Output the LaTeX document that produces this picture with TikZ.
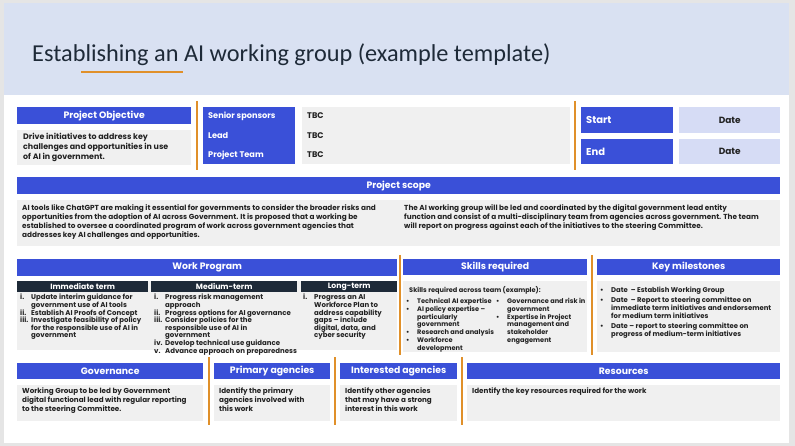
\documentclass[tikz,border=0pt]{standalone}
\usepackage{fontspec}
\setmainfont{Poppins}
\newfontfamily\titlefont{Carlito}
\definecolor{hb}{HTML}{D9E1F2}
\definecolor{bl}{HTML}{3A50D8}
\definecolor{gy}{HTML}{F0F0F0}
\definecolor{ld}{HTML}{D6DCF5}
\definecolor{dk}{HTML}{1E2A38}
\definecolor{og}{HTML}{E0902A}
\definecolor{tx}{HTML}{222222}
\tikzset{
 hdr/.style={fill=bl,text=white,font=\fontsize{9.3}{10}\selectfont\bfseries},
 sub/.style={fill=dk,text=white,font=\fontsize{7.7}{8}\selectfont\bfseries},
 body/.style={fill=gy},
 dat/.style={fill=ld,text=tx,font=\fontsize{9}{10}\selectfont\bfseries},
 txt/.style={anchor=north west,inner sep=0pt,align=left,text=tx,font=\fontsize{7.3}{9}\selectfont\bfseries},
 bar/.style={draw=og,line width=2.2pt},
}
\newcommand\bx[7]{\node[#6,anchor=north west,inner sep=0pt,minimum width={(#4-#2)*1pt},minimum height={(#5-#3)*1pt}] (#1) at (#2pt,-#3pt) {#7};}
\newcommand\li[2]{\makebox[11pt][l]{#1}#2}
\newcommand\cn{\\\hspace*{11pt}}
\begin{document}
\begin{tikzpicture}[x=1pt,y=1pt]
\useasboundingbox (0,0) rectangle (795,-446);
\fill[gray!20] (0,0) rectangle (795,-446);
\fill[white] (4,-3) rectangle (789,-443);
\fill[hb] (4,-3) rectangle (789,-95);
\node[anchor=base west,inner sep=0pt,text=dk,font=\titlefont\fontsize{24.3}{26}\selectfont] (title) at (32,-62) {Establishing an AI working group (example template)};
\coordinate (u1) at (81,-72); \coordinate (u2) at (183,-72);
\draw[og,line width=2pt] (u1) -- (u2);
% row 1
\bx{po}{17}{107}{191}{124}{hdr}{Project Objective}
\bx{pob}{17}{130}{191}{165}{body}{}
\node[txt,font=\fontsize{7.9}{9.8}\selectfont\bfseries] (pot) at (23,-133) {Drive initiatives to address key\\challenges and opportunities in use\\of AI in government.};
\coordinate (b1a) at (197,-101); \coordinate (b1b) at (197,-170); \draw[bar] (b1a)--(b1b);
\bx{sp}{203}{107}{295}{164}{hdr}{}
\node[txt,text=white,font=\fontsize{8.2}{9}\selectfont\bfseries,anchor=west] (spt) at (208,-116) {Senior sponsors};
\node[txt,text=white,font=\fontsize{8.2}{9}\selectfont\bfseries,anchor=west] (ldt) at (208,-136) {Lead};
\node[txt,text=white,font=\fontsize{8.2}{9}\selectfont\bfseries,anchor=west] (ptt) at (208,-155) {Project Team};
\bx{tb}{302}{107}{570}{164}{body}{}
\node[txt,font=\fontsize{8.2}{9}\selectfont\bfseries,anchor=west] (t1) at (307,-116) {TBC};
\node[txt,font=\fontsize{8.2}{9}\selectfont\bfseries,anchor=west] (t2) at (307,-136) {TBC};
\node[txt,font=\fontsize{8.2}{9}\selectfont\bfseries,anchor=west] (t3) at (307,-155) {TBC};
\coordinate (b2a) at (575,-101); \coordinate (b2b) at (575,-170); \draw[bar] (b2a)--(b2b);
\bx{st}{581}{107}{673}{133}{hdr}{}
\node[txt,text=white,font=\fontsize{10}{11}\selectfont\bfseries,anchor=west] (stt) at (586,-120) {Start};
\bx{sd}{679}{107}{780}{133}{dat}{Date}
\bx{en}{581}{139}{673}{164}{hdr}{}
\node[txt,text=white,font=\fontsize{10}{11}\selectfont\bfseries,anchor=west] (ent) at (586,-152) {End};
\bx{ed}{679}{139}{780}{164}{dat}{Date}
% scope
\bx{ps}{17}{177}{780}{194}{hdr}{Project scope}
\bx{psb}{17}{200}{780}{246}{body}{}
\node[txt] (ps1) at (22,-204) {AI tools like ChatGPT are making it essential for governments to consider the broader risks and\\opportunities from the adoption of AI across Government. It is proposed that a working be\\established to oversee a coordinated program of work across government agencies that\\addresses key AI challenges and opportunities.};
\node[txt] (ps2) at (404,-204) {The AI working group will be led and coordinated by the digital government lead entity\\function and consist of a multi-disciplinary team from agencies across government. The team\\will report on progress against each of the initiatives to the steering Committee.};
% row 3
\bx{wp}{17}{259}{397}{276}{hdr}{Work Program}
\bx{wpb}{17}{281}{397}{350}{body}{}
\bx{im}{17}{281}{148}{292}{sub}{Immediate term}
\bx{md}{151}{281}{297}{292}{sub}{Medium-term}
\bx{lt}{301}{281}{397}{292}{sub}{Long-term}
\node[txt,font=\fontsize{7}{7.6}\selectfont\bfseries] (imt) at (20,-294) {\li{i.}{Update interim guidance for}\cn government use of AI tools\\\li{ii.}{Establish AI Proofs of Concept}\\\li{iii.}{Investigate feasibility of policy}\cn for the responsible use of AI in\cn government};
\node[txt,font=\fontsize{7}{7.6}\selectfont\bfseries] (mdt) at (154,-294) {\li{i.}{Progress risk management}\cn approach\\\li{ii.}{Progress options for AI governance}\\\li{iii.}{Consider policies for the}\cn responsible use of AI in\cn government\\\li{iv.}{Develop technical use guidance}\\\li{v.}{Advance approach on preparedness}};
\node[txt,font=\fontsize{7}{7.6}\selectfont\bfseries] (ltt) at (303,-294) {\li{i.}{Progress an AI}\cn Workforce Plan to\cn address capability\cn gaps -- include\cn digital, data, and\cn cyber security};
\coordinate (b3a) at (400,-255); \coordinate (b3b) at (400,-355); \draw[bar] (b3a)--(b3b);
\bx{sk}{403}{259}{587}{275}{hdr}{Skills required}
\bx{skb}{403}{281}{587}{352}{body}{}
\node[txt,font=\fontsize{6.6}{8}\selectfont\bfseries] (skt) at (409,-286) {Skills required across team (example):};
\node[txt,font=\fontsize{6.6}{7.8}\selectfont\bfseries] (sk1) at (406,-298) {\li{•}{Technical AI expertise}\\\li{•}{AI policy expertise --}\cn particularly\cn government\\\li{•}{Research and analysis}\\\li{•}{Workforce}\cn development};
\node[txt,font=\fontsize{6.6}{7.8}\selectfont\bfseries] (sk2) at (496,-298) {\li{•}{Governance and risk in}\cn government\\\li{•}{Expertise in Project}\cn management and\cn stakeholder\cn engagement};
\coordinate (b4a) at (592,-255); \coordinate (b4b) at (592,-355); \draw[bar] (b4a)--(b4b);
\bx{km}{597}{259}{780}{275}{hdr}{Key milestones}
\bx{kmb}{597}{281}{780}{352}{body}{}
\node[txt,font=\fontsize{6.9}{8}\selectfont\bfseries] (kmt) at (600,-287) {\li{•}{Date~ -- Establish Working Group}\\[2pt]\li{•}{Date~ -- Report to steering committee on}\cn immediate term initiatives and endorsement\cn for medium term initiatives\\[2pt]\li{•}{Date -- report to steering committee on}\cn progress of medium-term initiatives};
% row 4
\bx{gv}{17}{363}{203}{379}{hdr}{Governance}
\bx{gvb}{17}{385}{203}{421}{body}{}
\node[txt,font=\fontsize{7.2}{8.6}\selectfont\bfseries] (gvt) at (22,-388) {Working Group to be led by Government\\digital functional lead with regular reporting\\to the steering Committee.};
\coordinate (b5a) at (209,-357); \coordinate (b5b) at (209,-425); \draw[bar] (b5a)--(b5b);
\bx{pa}{214}{363}{330}{379}{hdr}{Primary agencies}
\bx{pab}{214}{385}{330}{421}{body}{}
\node[txt,font=\fontsize{7.2}{8.6}\selectfont\bfseries] (pat) at (219,-388) {Identify the primary\\agencies involved with\\this work};
\coordinate (b6a) at (335,-357); \coordinate (b6b) at (335,-425); \draw[bar] (b6a)--(b6b);
\bx{ia}{340}{363}{457}{379}{hdr}{Interested agencies}
\bx{iab}{340}{385}{457}{421}{body}{}
\node[txt,font=\fontsize{7.2}{8.6}\selectfont\bfseries] (iat) at (345,-388) {Identify other agencies\\that may have a strong\\interest in this work};
\coordinate (b7a) at (462,-357); \coordinate (b7b) at (462,-425); \draw[bar] (b7a)--(b7b);
\bx{rs}{467}{363}{780}{379}{hdr}{Resources}
\bx{rsb}{467}{385}{780}{421}{body}{}
\node[txt,font=\fontsize{7.2}{8.6}\selectfont\bfseries] (rst) at (472,-388) {Identify the key resources required for the work};
\end{tikzpicture}
\end{document}
